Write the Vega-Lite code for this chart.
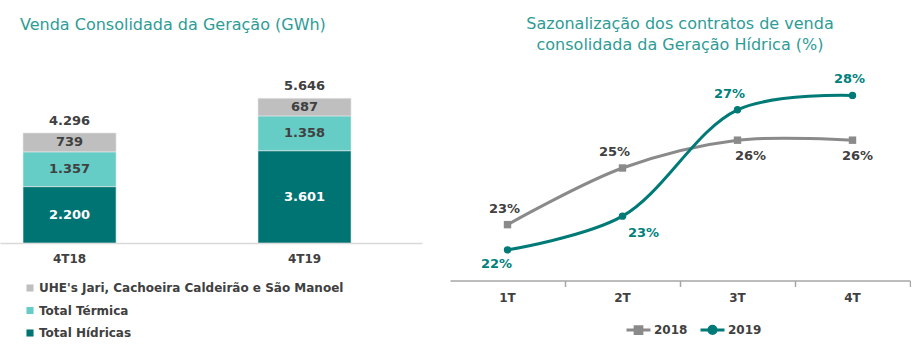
{
  "$schema": "https://vega.github.io/schema/vega-lite/v6.json",
  "padding": {"left": 0, "top": 16, "right": 0, "bottom": 0},
  "config": {
    "view": {"stroke": null},
    "font": "DejaVu Sans",
    "locale": {"number": {"decimal": ",", "thousands": ".", "grouping": [3], "currency": ["R$", ""]}}
  },
  "spacing": 28,
  "resolve": {"scale": {"color": "independent", "x": "independent", "y": "independent"}, "legend": {"color": "independent"}},
  "hconcat": [
    {
      "width": 422,
      "height": 178,
      "title": {"text": "Venda Consolidada da Geração (GWh)", "anchor": "start", "frame": "group", "dx": 20, "offset": 32, "font": "DejaVu Sans", "fontSize": 16, "fontWeight": "normal", "color": "#2e9c96"},
      "data": {"values": [
        {"periodo": "4T18", "serie": "Total Hídricas", "valor": 2200},
        {"periodo": "4T18", "serie": "Total Térmica", "valor": 1357},
        {"periodo": "4T18", "serie": "UHE's Jari, Cachoeira Caldeirão e São Manoel", "valor": 739},
        {"periodo": "4T19", "serie": "Total Hídricas", "valor": 3601},
        {"periodo": "4T19", "serie": "Total Térmica", "valor": 1358},
        {"periodo": "4T19", "serie": "UHE's Jari, Cachoeira Caldeirão e São Manoel", "valor": 687}
      ]},
      "encoding": {
        "x": {"field": "periodo", "type": "nominal", "sort": null,
          "scale": {"paddingInner": 0.604, "paddingOuter": 0.2, "align": 0.245},
          "axis": {"title": null, "labelAngle": 0, "domainColor": "#d9d9d9", "domainWidth": 1.5, "ticks": false, "labelFontWeight": "bold", "labelFontSize": 12, "labelColor": "#404040", "labelPadding": 10}}
      },
      "layer": [
        {
          "mark": {"type": "bar", "stroke": "#e8e8e8", "strokeWidth": 0.6},
          "encoding": {
            "y": {"field": "valor", "type": "quantitative", "stack": "zero", "scale": {"domain": [0, 6945], "nice": false}, "axis": null},
            "color": {"field": "serie", "type": "nominal",
              "scale": {"domain": ["UHE's Jari, Cachoeira Caldeirão e São Manoel", "Total Térmica", "Total Hídricas"], "range": ["#bfbfbf", "#66ccc6", "#007472"]},
              "legend": {"orient": "none", "legendX": 24, "legendY": 217, "direction": "vertical", "title": null, "symbolType": "square", "symbolSize": 50, "symbolStrokeWidth": 0, "labelFont": "DejaVu Sans", "labelFontSize": 12, "labelFontWeight": "bold", "labelColor": "#404040", "labelOffset": 3, "rowPadding": 10.5, "labelLimit": 400}},
            "order": {"field": "serie", "sort": "ascending"}
          }
        },
        {
          "transform": [
            {"stack": "valor", "groupby": ["periodo"], "sort": [{"field": "serie", "order": "ascending"}], "as": ["v0", "v1"]},
            {"fold": ["v0", "v1"], "as": ["k", "pos"]}
          ],
          "mark": {"type": "text", "fontWeight": "bold", "fontSize": 13, "font": "DejaVu Sans"},
          "encoding": {
            "y": {"field": "pos", "type": "quantitative", "aggregate": "mean"},
            "detail": {"field": "serie"},
            "text": {"field": "valor", "type": "quantitative", "aggregate": "max", "format": ",.0f"},
            "color": {"condition": {"test": "datum.serie === 'Total Hídricas'", "value": "#ffffff"}, "value": "#404040"}
          }
        },
        {
          "mark": {"type": "text", "fontWeight": "bold", "fontSize": 13, "font": "DejaVu Sans", "dy": -12, "color": "#404040"},
          "encoding": {
            "y": {"field": "valor", "type": "quantitative", "aggregate": "sum"},
            "text": {"field": "valor", "type": "quantitative", "aggregate": "sum", "format": ",.0f"}
          }
        }
      ]
    },
    {
      "width": 460,
      "height": 215.5,
      "title": {"text": ["Sazonalização dos contratos de venda", "consolidada da Geração Hídrica (%)"], "anchor": "middle", "frame": "group", "offset": 12, "lineHeight": 21, "font": "DejaVu Sans", "fontSize": 16, "fontWeight": "normal", "color": "#2e9c96"},
      "data": {"values": [
        {"tri": "1T", "ano": "2018", "valor": 0.228},
        {"tri": "2T", "ano": "2018", "valor": 0.250},
        {"tri": "3T", "ano": "2018", "valor": 0.2608},
        {"tri": "4T", "ano": "2018", "valor": 0.2608},
        {"tri": "1T", "ano": "2019", "valor": 0.2182},
        {"tri": "2T", "ano": "2019", "valor": 0.2313},
        {"tri": "3T", "ano": "2019", "valor": 0.2726},
        {"tri": "4T", "ano": "2019", "valor": 0.2782}
      ]},
      "resolve": {"axis": {"x": "independent"}},
      "encoding": {
        "x": {"field": "tri", "type": "nominal", "sort": null, "scale": {"paddingInner": 0, "paddingOuter": 0}, "axis": null},
        "y": {"field": "valor", "type": "quantitative", "scale": {"domain": [0.2063, 0.29], "nice": false, "zero": false}, "axis": null}
      },
      "layer": [
        {
          "mark": {"type": "line", "interpolate": "catmull-rom", "strokeWidth": 3},
          "encoding": {
            "x": {"field": "tri", "type": "nominal", "sort": null,
              "axis": {"orient": "bottom", "title": null, "labelAngle": 0, "domainColor": "#a6a6a6", "domainWidth": 1.5, "ticks": false, "labelFontWeight": "bold", "labelFontSize": 12, "labelColor": "#404040", "labelPadding": 12}},
            "color": {"field": "ano", "type": "nominal", "scale": {"domain": ["2018", "2019"], "range": ["#8a8a8a", "#007a77"]},
              "legend": {"orient": "none", "legendX": 175, "legendY": 251, "direction": "horizontal", "title": null,
                "labelFont": "DejaVu Sans", "labelFontWeight": "bold", "labelFontSize": 12, "labelColor": "#404040",
                "symbolSize": 576, "symbolStrokeWidth": 3, "symbolType": "M-1,0L1,0M-0.28,-0.28L0.28,-0.28L0.28,0.28L-0.28,0.28Z", "columnPadding": 6, "labelOffset": 2,
                "encode": {"symbols": {"update": {
                  "shape": {"signal": "datum.value === '2018' ? 'M-1,0L1,0M-0.28,-0.28L0.28,-0.28L0.28,0.28L-0.28,0.28Z' : 'M-1,0L1,0M0.3,0A0.3,0.3,0,1,1,-0.3,0A0.3,0.3,0,1,1,0.3,0Z'"},
                  "fill": {"signal": "datum.value === '2018' ? '#8a8a8a' : '#007a77'"},
                  "stroke": {"signal": "datum.value === '2018' ? '#8a8a8a' : '#007a77'"}
                }}}}}
          }
        },
        {
          "transform": [{"filter": "datum.ano === '2018'"}],
          "mark": {"type": "point", "shape": "square", "filled": true, "size": 55, "opacity": 1, "color": "#8a8a8a"},
          "encoding": {
            "x": {"field": "tri", "type": "nominal", "sort": null,
              "axis": {"orient": "bottom", "title": null, "values": ["2T", "3T", "4T"], "tickBand": "extent", "tickExtra": false, "labels": false, "domain": false, "ticks": true, "tickColor": "#a6a6a6", "tickSize": 6, "tickWidth": 1.5}}
          }
        },
        {
          "transform": [{"filter": "datum.ano === '2019'"}],
          "mark": {"type": "point", "shape": "circle", "filled": true, "size": 55, "opacity": 1, "color": "#007a77"},
          "encoding": {}
        },
        {
          "transform": [{"filter": "(datum.ano === '2018' && datum.tri === '1T') || (datum.ano === '2019' && datum.tri === '4T')"}],
          "mark": {"type": "text", "fontWeight": "bold", "fontSize": 13, "font": "DejaVu Sans", "dy": -16, "dx": -3},
          "encoding": {"text": {"field": "valor", "type": "quantitative", "format": ".0%"},
            "color": {"condition": {"test": "datum.ano === '2018'", "value": "#404040"}, "value": "#00807c"}}
        },
        {
          "transform": [{"filter": "(datum.ano === '2018' && datum.tri === '2T') || (datum.ano === '2019' && datum.tri === '3T')"}],
          "mark": {"type": "text", "fontWeight": "bold", "fontSize": 13, "font": "DejaVu Sans", "dy": -16, "dx": -8},
          "encoding": {"text": {"field": "valor", "type": "quantitative", "format": ".0%"},
            "color": {"condition": {"test": "datum.ano === '2018'", "value": "#404040"}, "value": "#00807c"}}
        },
        {
          "transform": [{"filter": "datum.ano === '2018' && datum.tri === '3T'"}],
          "mark": {"type": "text", "fontWeight": "bold", "fontSize": 13, "font": "DejaVu Sans", "dy": 16, "dx": 13},
          "encoding": {"text": {"field": "valor", "type": "quantitative", "format": ".0%"},
            "color": {"condition": {"test": "datum.ano === '2018'", "value": "#404040"}, "value": "#00807c"}}
        },
        {
          "transform": [{"filter": "datum.ano === '2018' && datum.tri === '4T'"}],
          "mark": {"type": "text", "fontWeight": "bold", "fontSize": 13, "font": "DejaVu Sans", "dy": 16, "dx": 5},
          "encoding": {"text": {"field": "valor", "type": "quantitative", "format": ".0%"},
            "color": {"condition": {"test": "datum.ano === '2018'", "value": "#404040"}, "value": "#00807c"}}
        },
        {
          "transform": [{"filter": "datum.ano === '2019' && datum.tri === '1T'"}],
          "mark": {"type": "text", "fontWeight": "bold", "fontSize": 13, "font": "DejaVu Sans", "dy": 14, "dx": -11},
          "encoding": {"text": {"field": "valor", "type": "quantitative", "format": ".0%"},
            "color": {"condition": {"test": "datum.ano === '2018'", "value": "#404040"}, "value": "#00807c"}}
        },
        {
          "transform": [{"filter": "datum.ano === '2019' && datum.tri === '2T'"}],
          "mark": {"type": "text", "fontWeight": "bold", "fontSize": 13, "font": "DejaVu Sans", "dy": 17, "dx": 21},
          "encoding": {"text": {"field": "valor", "type": "quantitative", "format": ".0%"},
            "color": {"condition": {"test": "datum.ano === '2018'", "value": "#404040"}, "value": "#00807c"}}
        }
      ]
    }
  ]
}
